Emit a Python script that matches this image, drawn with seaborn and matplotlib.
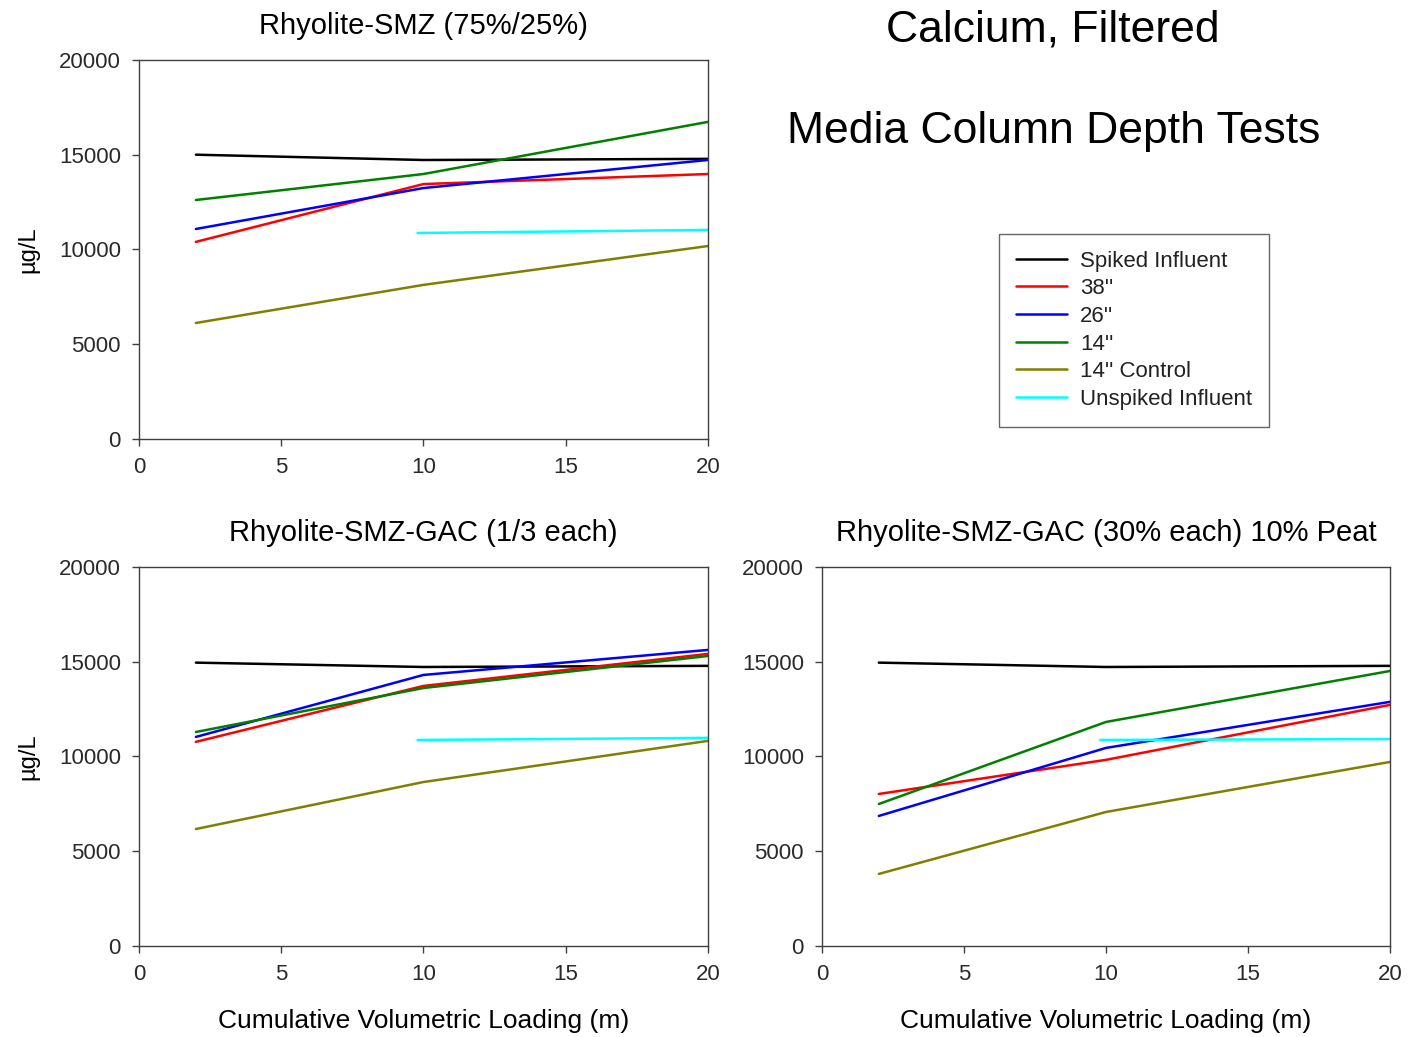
import pandas as pd
import numpy as np
import matplotlib
matplotlib.use("Agg")
import matplotlib.pyplot as plt
import seaborn as sns

# Loading points (m)
x_main = [2, 10, 20]
x_unspiked = [9.8, 20]

series_names = ["Spiked Influent", "38''", "26''", "14''", "14'' Control", "Unspiked Influent"]
series_colors = ["#000000", "#ff0000", "#0000ff", "#008000", "#808000", "#00ffff"]

# Rhyolite-SMZ (75%/25%)
smz_spiked = [15000, 14720, 14780]
smz_38 = [10400, 13450, 13980]
smz_26 = [11080, 13240, 14720]
smz_14 = [12610, 13980, 16730]
smz_control = [6120, 8130, 10180]
smz_unspiked = [10870, 11030]

# Rhyolite-SMZ-GAC (1/3 each)
gac_spiked = [14950, 14720, 14780]
gac_38 = [10770, 13720, 15410]
gac_26 = [11030, 14300, 15620]
gac_14 = [11290, 13610, 15300]
gac_control = [6170, 8650, 10820]
gac_unspiked = [10870, 10980]

# Rhyolite-SMZ-GAC (30% each) 10% Peat
peat_spiked = [14950, 14720, 14780]
peat_38 = [8020, 9820, 12720]
peat_26 = [6860, 10450, 12880]
peat_14 = [7490, 11820, 14510]
peat_control = [3800, 7070, 9710]
peat_unspiked = [10870, 10920]


def build_frame(spiked, s38, s26, s14, control, unspiked):
    rows = []
    for name, vals in zip(series_names[:5], [spiked, s38, s26, s14, control]):
        for x, v in zip(x_main, vals):
            rows.append({"loading": x, "conc": v, "series": name})
    for x, v in zip(x_unspiked, unspiked):
        rows.append({"loading": x, "conc": v, "series": series_names[5]})
    return pd.DataFrame(rows)


panels = [
    ("Rhyolite-SMZ (75%/25%)", build_frame(smz_spiked, smz_38, smz_26, smz_14, smz_control, smz_unspiked),
     [0.0986, 0.5767, 0.4034, 0.3655], True, False),
    ("Rhyolite-SMZ-GAC (1/3 each)", build_frame(gac_spiked, gac_38, gac_26, gac_14, gac_control, gac_unspiked),
     [0.0986, 0.0878, 0.4034, 0.3655], True, True),
    ("Rhyolite-SMZ-GAC (30% each) 10% Peat", build_frame(peat_spiked, peat_38, peat_26, peat_14, peat_control, peat_unspiked),
     [0.583, 0.0878, 0.4028, 0.3655], False, True),
]

sns.set_theme(style="white")
plt.rcParams["font.family"] = ["Liberation Sans", "DejaVu Sans"]
plt.rcParams["text.color"] = "black"
plt.rcParams["axes.labelcolor"] = "black"

fig = plt.figure(figsize=(14.1, 10.37), dpi=100)
palette = dict(zip(series_names, series_colors))

handles = None
for title, df, rect, show_ylabel, show_xlabel in panels:
    ax = fig.add_axes(rect)
    sns.lineplot(data=df, x="loading", y="conc", hue="series", hue_order=series_names,
                 palette=palette, sort=False, linewidth=1.8, ax=ax, legend=True)
    handles, labels = ax.get_legend_handles_labels()
    ax.get_legend().remove()
    ax.set_xlim(0, 20)
    ax.set_ylim(0, 20000)
    ax.set_xticks([0, 5, 10, 15, 20])
    ax.set_yticks([0, 5000, 10000, 15000, 20000])
    ax.set_title(title, fontsize=21, pad=19, color="black")
    ax.set_xlabel("Cumulative Volumetric Loading (m)" if show_xlabel else "", fontsize=19, labelpad=17)
    ax.set_ylabel("µg/L" if show_ylabel else "", fontsize=17, labelpad=14)
    for sp in ax.spines.values():
        sp.set_color("#404040")
        sp.set_linewidth(1.0)
    ax.tick_params(axis="both", which="major", direction="out", length=5, width=1,
                   color="#404040", labelsize=16, labelcolor="#2a2a2a", pad=8,
                   bottom=True, left=True, top=False, right=False)

fig.text(0.747, 0.971, "Calcium, Filtered", fontsize=32, ha="center", va="center")
fig.text(0.747, 0.873, "Media Column Depth Tests", fontsize=32, ha="center", va="center")

leg = fig.legend(handles, labels, loc="upper left", bbox_to_anchor=(0.7085, 0.7745),
                 fontsize=16, frameon=True, fancybox=False, handlelength=2.3,
                 handletextpad=0.6, labelspacing=0.3, borderpad=0.75, borderaxespad=0)
leg.get_frame().set_edgecolor("#404040")
leg.get_frame().set_linewidth(1.0)
for t in leg.get_texts():
    t.set_color("#222222")

fig.savefig("out.png", dpi=100)
